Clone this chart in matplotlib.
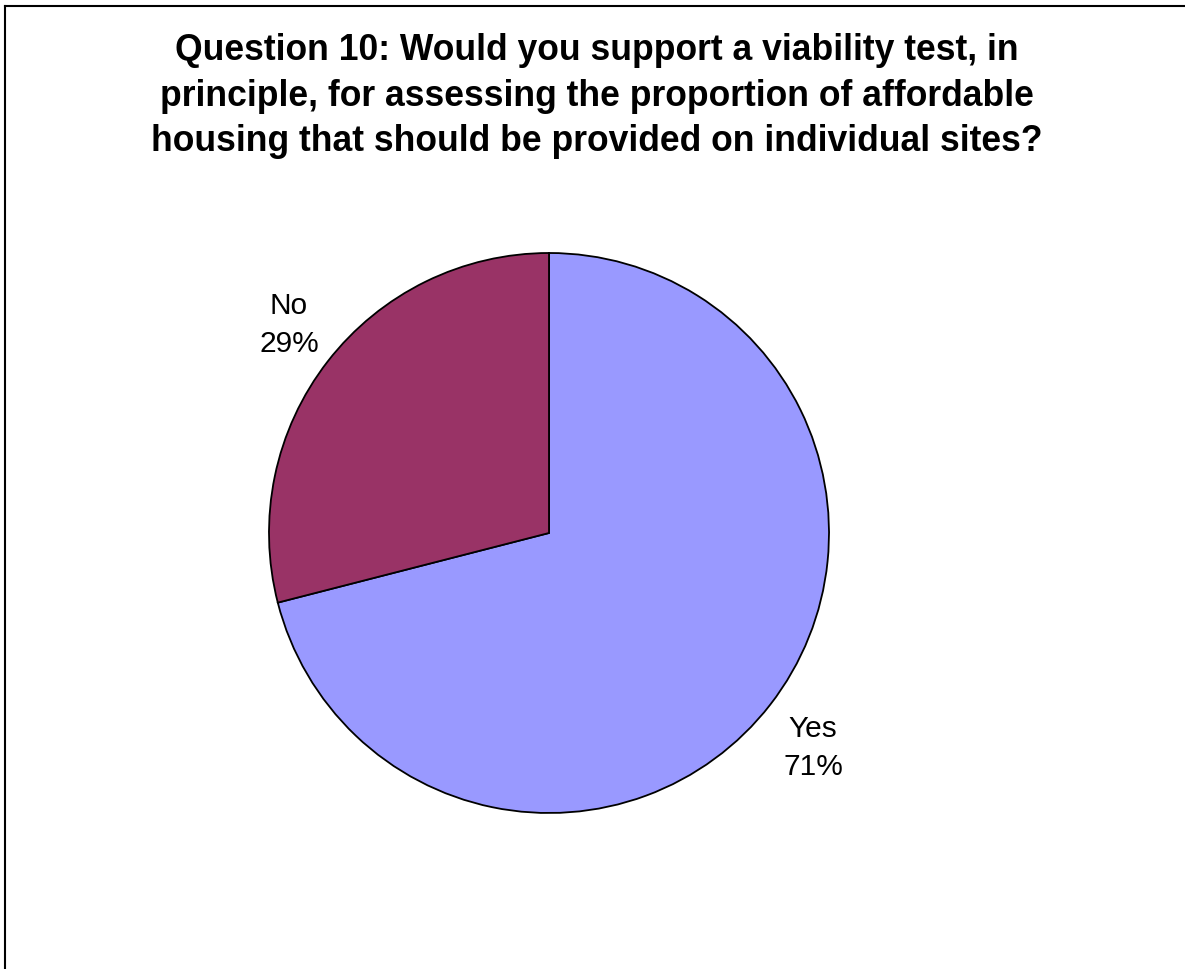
import matplotlib
matplotlib.use('Agg')
import matplotlib.pyplot as plt
from matplotlib.lines import Line2D

title = ('Question 10: Would you support a viability test, in\n'
         'principle, for assessing the proportion of affordable\n'
         'housing that should be provided on individual sites?')
answers = ['Yes', 'No']
shares = [71, 29]
colors = ['#9999FF', '#993366']

W, H = 1185, 969
plt.rcParams['font.family'] = ['Liberation Sans', 'DejaVu Sans']

fig = plt.figure(figsize=(W / 100, H / 100), dpi=100)
ax = fig.add_axes([0, 0, 1, 1])

cx, cy, r = 549, H - 533, 280
wedges, texts = ax.pie(shares, colors=colors, startangle=90, counterclock=False,
                       center=(cx, cy), radius=r, frame=True,
                       labels=[f'{a}\n{s}%' for a, s in zip(answers, shares)],
                       wedgeprops=dict(edgecolor='black', linewidth=1.3),
                       textprops=dict(fontsize=21.5, linespacing=1.45))
ax.set_xlim(0, W)
ax.set_ylim(0, H)
ax.set_aspect('equal')
ax.axis('off')

# labels beside their slices (baseline of the last line)
label_pos = [(813, H - 775), (289, H - 352)]
for t, p in zip(texts, label_pos):
    t.set_position(p)
    t.set_ha('center')
    t.set_va('baseline')

fig.text(597 / W, 1 - 151 / H, title, ha='center', va='baseline',
         fontsize=25.6, fontweight='bold', linespacing=1.38)

# chart frame (top and left edges)
fig.add_artist(Line2D([5 / W, 5 / W], [0, 1 - 6 / H], color='black', lw=1.5,
                      transform=fig.transFigure))
fig.add_artist(Line2D([5 / W, 1], [1 - 6 / H, 1 - 6 / H], color='black', lw=1.5,
                      transform=fig.transFigure))

fig.savefig('out.png', dpi=100, facecolor='white')
